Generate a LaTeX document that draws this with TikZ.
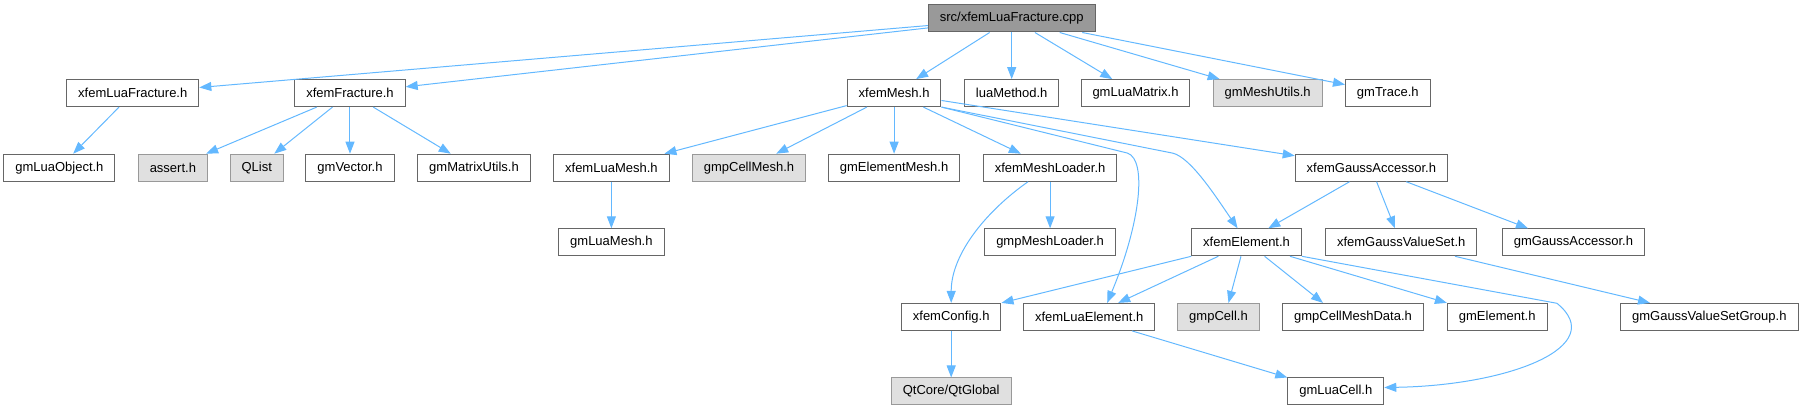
\documentclass[tikz,border=0pt]{standalone}
\usepackage{fontspec}
\setmainfont{Liberation Sans}
\usetikzlibrary{arrows.meta}

\definecolor{edgeblue}{HTML}{63B8FF}
\definecolor{boxline}{HTML}{666666}
\definecolor{sysfill}{HTML}{E0E0E0}
\definecolor{sysline}{HTML}{999999}
\definecolor{rootfill}{HTML}{999999}

\begin{document}
\begin{tikzpicture}[->,>={Triangle[length=12pt,width=9pt]},line width=1pt,
                    node distance=74.6pt]
   \tikzstyle{every edge}=[draw,edgeblue]
   \tikzstyle{hdr}=[rectangle,draw=boxline,fill=white,text=black,
                    minimum height=27pt,inner xsep=11.5pt,inner ysep=0pt,
                    font=\fontsize{13}{15}\selectfont]
   \tikzstyle{syshdr}=[hdr,draw=sysline,fill=sysfill]
   \tikzstyle{rootfile}=[hdr,fill=rootfill]
   \tikzstyle{link}=[draw=edgeblue]

   \useasboundingbox (-1011.7pt,-392.5pt) rectangle (790.3pt,18.5pt);

   \node[rootfile] (cpp) {src/xfemLuaFracture.cpp};

   % row 2
   \node[hdr]    (luamethod)   [below of=cpp]                                 {luaMethod.h};
   \node[hdr]    (mesh)        [node distance=117.6pt, left of=luamethod]     {xfemMesh.h};
   \node[hdr]    (frac)        [node distance=544.1pt, left of=mesh]          {xfemFracture.h};
   \node[hdr]    (luafrac)     [node distance=217.2pt, left of=frac]          {xfemLuaFracture.h};
   \node[hdr]    (luamatrix)   [node distance=123.8pt, right of=luamethod]    {gmLuaMatrix.h};
   \node[syshdr] (meshutils)   [node distance=132.2pt, right of=luamatrix]    {gmMeshUtils.h};
   \node[hdr]    (trace)       [node distance=120.1pt, right of=meshutils]    {gmTrace.h};

   % row 3
   \node[hdr]    (vector)      [below of=frac]                                {gmVector.h};
   \node[syshdr] (qlist)       [node distance=93.2pt, left of=vector]         {QList};
   \node[syshdr] (assert)      [node distance=83.9pt, left of=qlist]          {assert.h};
   \node[hdr]    (luaobject)   [node distance=113.5pt, left of=assert]        {gmLuaObject.h};
   \node[hdr]    (matrixutils) [node distance=124pt, right of=vector]         {gmMatrixUtils.h};
   \node[hdr]    (luamesh)     [node distance=137.4pt, right of=matrixutils]  {xfemLuaMesh.h};
   \node[syshdr] (cellmesh)    [node distance=137.6pt, right of=luamesh]      {gmpCellMesh.h};
   \node[hdr]    (elementmesh) [below of=mesh]                                {gmElementMesh.h};
   \node[hdr]    (meshloader)  [node distance=156pt, right of=elementmesh]    {xfemMeshLoader.h};
   \node[hdr]    (gaussacc)    [node distance=321.3pt, right of=meshloader]   {xfemGaussAccessor.h};

   % row 4
   \node[hdr]    (gmluamesh)   [below of=luamesh]                             {gmLuaMesh.h};
   \node[hdr]    (gmpmeshloader) [below of=meshloader]                        {gmpMeshLoader.h};
   \node[hdr]    (element)     [node distance=196.5pt, right of=gmpmeshloader] {xfemElement.h};
   \node[hdr]    (gaussvalset) [node distance=154.6pt, right of=element]      {xfemGaussValueSet.h};
   \node[hdr]    (gmgaussacc)  [node distance=172.2pt, right of=gaussvalset]  {gmGaussAccessor.h};

   % row 5
   \node[hdr]    (luaelement)  [below of=gmpmeshloader, xshift=39.1pt]        {xfemLuaElement.h};
   \node[hdr]    (config)      [node distance=138pt, left of=luaelement]      {xfemConfig.h};
   \node[syshdr] (cell)        [node distance=129.3pt, right of=luaelement]   {gmpCell.h};
   \node[hdr]    (cellmeshdata) [node distance=134.5pt, right of=cell]        {gmpCellMeshData.h};
   \node[hdr]    (gmelement)   [node distance=144.2pt, right of=cellmeshdata] {gmElement.h};
   \node[hdr]    (gaussgroup)  [node distance=212.1pt, right of=gmelement]    {gmGaussValueSetGroup.h};

   % row 6
   \node[syshdr] (qtglobal)    [below of=config]                              {QtCore/QtGlobal};
   \node[hdr]    (luacell)     [node distance=384.6pt, right of=qtglobal]     {gmLuaCell.h};

   \path (cpp) edge (luafrac)
               edge (frac)
               edge (mesh)
               edge (luamethod)
               edge (luamatrix)
               edge (meshutils)
               edge (trace)
         (luafrac) edge (luaobject)
         (frac) edge (assert)
                edge (qlist)
                edge (vector)
                edge (matrixutils)
         (mesh) edge (luamesh)
                edge (cellmesh)
                edge (elementmesh)
                edge (meshloader)
                edge (gaussacc)
         (luamesh) edge (gmluamesh)
         (meshloader) edge (gmpmeshloader)
         ([xshift=-21.8pt]gaussacc.south) edge ([xshift=21.7pt]element.north)
         ([xshift=5.2pt]gaussacc.south)   edge ([xshift=-6.2pt]gaussvalset.north)
         ([xshift=34.8pt]gaussacc.south)  edge ([xshift=-45.4pt]gmgaussacc.north)
         (element.south west)             edge (config.north east)
         ([xshift=-28.3pt]element.south)  edge ([xshift=29pt]luaelement.north)
         ([xshift=-5.6pt]element.south)   edge ([xshift=10pt]cell.north)
         ([xshift=18pt]element.south)     edge ([xshift=-30pt]cellmeshdata.north)
         ([xshift=43.4pt]element.south)   edge (gmelement.north west)
         ([xshift=53.8pt]gaussvalset.south) edge ([xshift=-59.3pt]gaussgroup.north)
         ([xshift=42.8pt]luaelement.south) edge (luacell.north west)
         (config) edge (qtglobal);

   % bent ones
   \draw[link] (mesh.south east) -- ++(186pt,-46pt)
        .. controls +(20pt,-7pt) and +(33pt,79pt) .. ([xshift=18pt]luaelement.north);
   \draw[link] (mesh.south east) -- ++(231pt,-46pt)
        .. controls +(18pt,-4pt) and +(-22pt,32pt) .. ([xshift=-9pt]element.north);
   \draw[link] ([xshift=-22pt]meshloader.south)
        .. controls +(-40pt,-28pt) and +(0pt,50pt) .. (config.north);
   \draw[link] (element.south east) -- ++(255pt,-47pt)
        .. controls +(53pt,-43pt) and +(125pt,2pt) .. ([yshift=4pt]luacell.east);
\end{tikzpicture}
\end{document}
